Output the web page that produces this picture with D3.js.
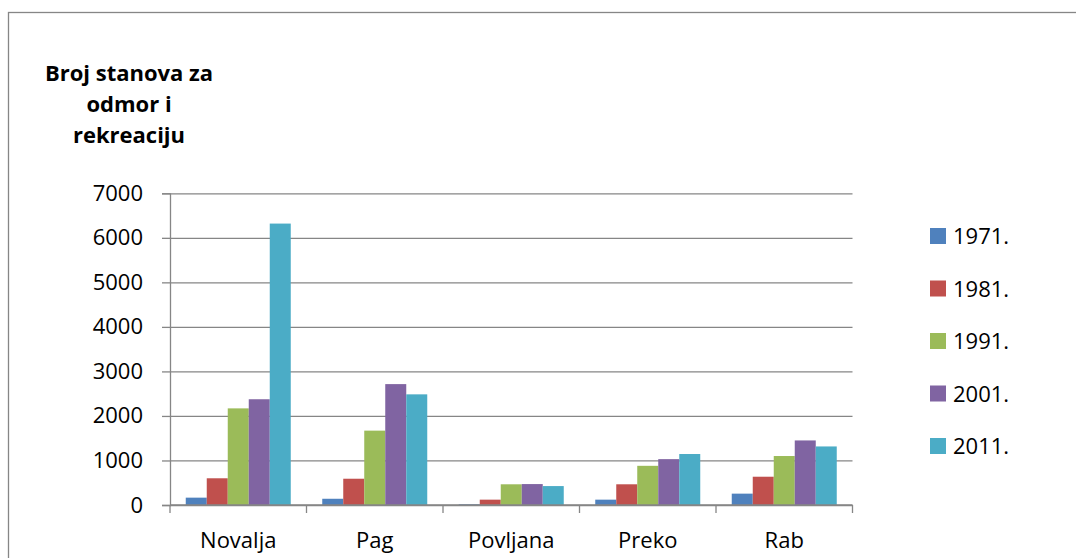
<!DOCTYPE html>
<html lang="hr">
  <head>
    <meta charset="UTF-8" />
    <title>Broj stanova za odmor i rekreaciju</title>
    <style>
      body { margin: 0; background: #fff; }
      text { font-family: "Open Sans", sans-serif; fill: #000; }
    </style>
  </head>
  <body>
    <div id="wrapper"></div>
    <script src="https://d3js.org/d3.v7.min.js"></script>
    <script>
      const categories = ["Novalja", "Pag", "Povljana", "Preko", "Rab"];
      const years = ["1971.", "1981.", "1991.", "2001.", "2011."];
      const values1971 = [165, 140, 15, 120, 255];
      const values1981 = [600, 590, 120, 465, 635];
      const values1991 = [2170, 1670, 465, 880, 1100];
      const values2001 = [2375, 2715, 470, 1030, 1450];
      const values2011 = [6320, 2485, 425, 1145, 1315];
      const yTicks = [0, 1000, 2000, 3000, 4000, 5000, 6000, 7000];
      const titleLines = ["Broj stanova za", "odmor i", "rekreaciju"];

      const series = [values1971, values1981, values1991, values2001, values2011];
      const colors = ["#4F81BD", "#C0504D", "#9BBB59", "#8064A2", "#4BACC6"];
      const gridColor = "#868686";

      const W = 1076, H = 558;
      const plot = {left: 170, right: 852.5, top: 193.3, bottom: 505};

      const svg = d3.select("#wrapper")
        .append("svg")
          .attr("width", W)
          .attr("height", H);

      // outer chart frame (runs off the right and bottom edge)
      svg.append("rect")
        .attr("x", 8.5).attr("y", 12.5)
        .attr("width", W + 20).attr("height", H + 20)
        .attr("fill", "none")
        .attr("stroke", gridColor)
        .attr("stroke-width", 1.3);

      const x = d3.scaleBand()
        .domain(categories)
        .range([plot.left, plot.right]);

      const x1 = d3.scaleBand()
        .domain(years)
        .range([0, x.bandwidth()])
        .paddingInner(0)
        .paddingOuter(0.75);

      const y = d3.scaleLinear()
        .domain([0, 7000])
        .range([plot.bottom, plot.top]);

      // gridlines
      svg.append("g")
        .attr("transform", `translate(${plot.left},0)`)
        .call(d3.axisLeft(y).tickValues(yTicks).tickSize(-(plot.right - plot.left)).tickFormat(""))
        .call(g => g.select(".domain").remove())
        .call(g => g.selectAll("line").attr("stroke", gridColor).attr("stroke-width", 1.3));

      // y axis
      svg.append("g")
        .attr("transform", `translate(${plot.left},0)`)
        .call(d3.axisLeft(y).tickValues(yTicks).tickFormat(d3.format("d")).tickSize(8).tickPadding(19))
        .call(g => g.select(".domain").attr("stroke", gridColor).attr("stroke-width", 1.3))
        .call(g => g.selectAll("line").attr("stroke", gridColor).attr("stroke-width", 1.3))
        .call(g => g.selectAll("text")
          .attr("font-family", "Open Sans")
          .attr("font-size", 22)
          .attr("fill", "#000"));

      // bars
      svg.append("g")
        .selectAll("g")
        .data(categories)
        .join("g")
          .attr("transform", d => `translate(${x(d)},0)`)
        .selectAll("rect")
        .data((d, i) => years.map((yr, k) => ({yr, k, v: series[k][i]})))
        .join("rect")
          .attr("x", d => x1(d.yr))
          .attr("width", x1.bandwidth())
          .attr("y", d => y(d.v))
          .attr("height", d => y(0) - y(d.v))
          .attr("fill", d => colors[d.k]);

      // x axis: line and category boundary ticks
      const xAxis = svg.append("g");
      xAxis.append("line")
        .attr("x1", plot.left).attr("x2", plot.right)
        .attr("y1", y(0)).attr("y2", y(0))
        .attr("stroke", gridColor).attr("stroke-width", 1.3);
      const edges = categories.map(c => x(c)).concat([plot.right]);
      xAxis.selectAll(".edge")
        .data(edges)
        .join("line")
          .attr("class", "edge")
          .attr("x1", d => d).attr("x2", d => d)
          .attr("y1", y(0)).attr("y2", y(0) + 8)
          .attr("stroke", gridColor).attr("stroke-width", 1.3);
      xAxis.selectAll(".cat")
        .data(categories)
        .join("text")
          .attr("class", "cat")
          .attr("x", d => x(d) + x.bandwidth() / 2)
          .attr("y", 548)
          .attr("text-anchor", "middle")
          .attr("font-size", 22)
          .text(d => d);

      // axis title
      svg.append("g")
        .selectAll("text")
        .data(titleLines)
        .join("text")
          .attr("x", 129)
          .attr("y", (d, i) => 81 + i * 31)
          .attr("text-anchor", "middle")
          .attr("font-size", 22)
          .attr("font-weight", "bold")
          .text(d => d);

      // legend
      const legend = svg.append("g")
        .selectAll("g")
        .data(years)
        .join("g")
          .attr("transform", (d, i) => `translate(930,${236 + i * 52.5})`);
      legend.append("rect")
        .attr("x", 0).attr("y", -8)
        .attr("width", 16).attr("height", 16)
        .attr("fill", (d, i) => colors[i]);
      legend.append("text")
        .attr("x", 23)
        .attr("y", 8)
        .attr("font-size", 22)
        .text(d => d);
    </script>
  </body>
</html>
